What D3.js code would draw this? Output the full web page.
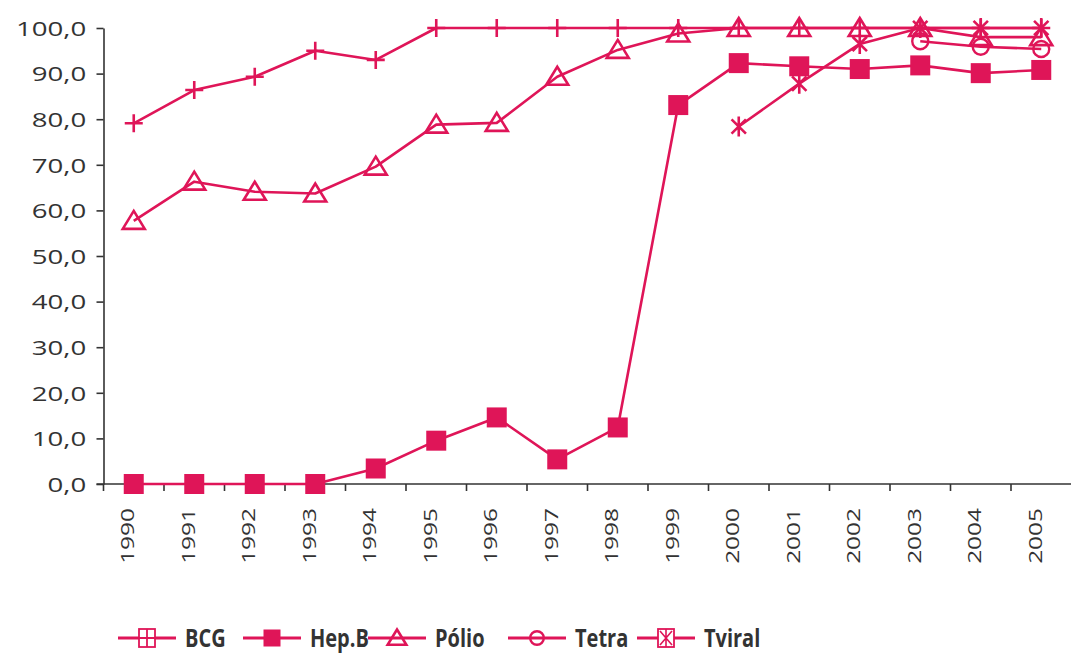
<!DOCTYPE html>
<html>
<head>
<meta charset="utf-8">
<script src="https://cdn.jsdelivr.net/npm/d3@7"></script>
<style>
    body { margin: 0; background: #fff; }
    text { font-family: "Open Sans", sans-serif; fill: #333; }
</style>
</head>
<body>
<div class="svg-container"></div>
<script>
// data
var years = ["1990","1991","1992","1993","1994","1995","1996","1997","1998","1999","2000","2001","2002","2003","2004","2005"];
var bcg   = [79.1, 86.4, 89.3, 95.0, 93.0, 100, 100, 100, 100, 100, 100, 100, 100, 100, 100, 100];
var hepB  = [0, 0, 0, 0, 3.4, 9.5, 14.6, 5.4, 12.4, 83.1, 92.3, 91.6, 91.0, 91.8, 90.1, 90.8];
var polio = [57.7, 66.3, 64.1, 63.7, 69.6, 78.8, 79.2, 89.3, 95.2, 98.8, 100, 100, 100, 100, 98.0, 98.0];
var tetra = [null, null, null, null, null, null, null, null, null, null, null, null, null, 97.1, 95.9, 95.4];
var tviral = [null, null, null, null, null, null, null, null, null, null, 78.4, 87.8, 96.5, 100, 100, 100];
var yTicks = [0, 10, 20, 30, 40, 50, 60, 70, 80, 90, 100];
var seriesNames = ["BCG", "Hep.B", "Pólio", "Tetra", "Tviral"];

var color = "#df1558";

var series = [
    {name: seriesNames[0], values: bcg, marker: "plus", legendMarker: "boxplus"},
    {name: seriesNames[1], values: hepB, marker: "square", legendMarker: "square"},
    {name: seriesNames[2], values: polio, marker: "triangle", legendMarker: "triangle"},
    {name: seriesNames[3], values: tetra, marker: "circle", legendMarker: "circle"},
    {name: seriesNames[4], values: tviral, marker: "star", legendMarker: "boxstar"}
];

function render(){
    var width = 1071;
    var height = 657;
    var left = 103.5;
    var top = 28;
    var bottom = 484;

    var svg = d3.select(".svg-container").append("svg")
    .attr("width", width)
    .attr("height", height);

    // scales
    var x = d3.scaleBand()
    .domain(years)
    .range([left, left + 16 * 60.5])
    .padding(0);

    var y = d3.scaleLinear()
    .domain([0, 100])
    .range([bottom, top]);

    // Y axis
    var yAxis = svg.append("g")
    .attr("transform", "translate(" + left + ",0)")
    .call(d3.axisLeft(y)
        .tickValues(yTicks)
        .tickSize(7)
        .tickSizeOuter(0)
        .tickFormat(function(d){ return d3.format(".1f")(d).replace(".", ","); }));

    yAxis.select(".domain").attr("stroke", "#333").attr("stroke-width", 1.6);
    yAxis.selectAll(".tick line").attr("stroke", "#333").attr("stroke-width", 1.6);
    yAxis.selectAll(".tick text")
    .attr("x", -12.5)
    .attr("dy", "0.36em")
    .attr("transform", "scale(1.38,1)")
    .style("font-size", "20px")
    .style("font-family", "'Open Sans', sans-serif")
    .attr("fill", "#333");

    // X axis line (goes over to the right edge)
    svg.append("line")
    .attr("x1", left - 7)
    .attr("x2", width)
    .attr("y1", bottom)
    .attr("y2", bottom)
    .attr("stroke", "#333")
    .attr("stroke-width", 1.6);

    // ticks between the years
    var bounds = years.map(function(d){ return x(d); });
    svg.selectAll(".xtick")
    .data(bounds)
    .enter().append("line")
    .attr("class", "xtick")
    .attr("x1", function(d){ return d; })
    .attr("x2", function(d){ return d; })
    .attr("y1", bottom)
    .attr("y2", bottom + 7)
    .attr("stroke", "#333")
    .attr("stroke-width", 1.6);

    // year labels, rotated
    svg.selectAll(".xlabel")
    .data(years)
    .enter().append("text")
    .attr("class", "xlabel")
    .attr("transform", function(d){
        var cx = x(d) + x.bandwidth() / 2 - 6;
        return "translate(" + cx + "," + (bottom + 24) + ") rotate(-90) scale(1.32,1)";
    })
    .attr("dy", "0.36em")
    .style("text-anchor", "end")
    .style("font-size", "18.5px")
    .text(function(d){ return d; });

    var cx = function(i){ return x(years[i]) + x.bandwidth() / 2; };

    var line = d3.line()
    .defined(function(d){ return d != null; })
    .x(function(d, i){ return cx(i); })
    .y(function(d){ return y(d); });

    // lines and markers, one series after the other
    series.forEach(function(s){
        var g = svg.append("g");
        g.append("path")
        .datum(s.values)
        .attr("d", line)
        .attr("fill", "none")
        .attr("stroke", color)
        .attr("stroke-width", 2.6)
        .attr("stroke-linejoin", "round");

        s.values.forEach(function(v, i){
            if(v == null) return;
            drawMarker(g, s.marker, cx(i), y(v));
        });
    });

    // Legend
    var legendX = [118, 243, 368, 508, 637];
    var legendY = 638;
    series.forEach(function(s, i){
        var lg = svg.append("g");
        lg.append("line")
        .attr("x1", legendX[i])
        .attr("x2", legendX[i] + 58)
        .attr("y1", legendY)
        .attr("y2", legendY)
        .attr("stroke", color)
        .attr("stroke-width", 3);
        drawMarker(lg, s.legendMarker, legendX[i] + 29, legendY, true);
        lg.append("text")
        .attr("transform", "translate(" + (legendX[i] + 67) + "," + legendY + ") scale(0.8,1)")
        .attr("dy", "0.36em")
        .style("font-size", "25px")
        .style("font-weight", "bold")
        .text(s.name);
    });
}

function drawMarker(g, type, px, py, small){
    var k = small ? 0.85 : 1;
    if(type == "square"){
        g.append("rect")
        .attr("x", px - 10 * k)
        .attr("y", py - 10 * k)
        .attr("width", 20 * k)
        .attr("height", 20 * k)
        .attr("fill", color);
    }
    else if(type == "plus"){
        g.append("path")
        .attr("d", "M" + (px - 9) + "," + py + "H" + (px + 9) + "M" + px + "," + (py - 9) + "V" + (py + 9))
        .attr("stroke", color)
        .attr("stroke-width", 2.6)
        .attr("fill", "none");
    }
    else if(type == "triangle"){
        g.append("path")
        .attr("d", "M" + px + "," + (py - 10 * k) + "L" + (px + 11 * k) + "," + (py + 8 * k) + "L" + (px - 11 * k) + "," + (py + 8 * k) + "Z")
        .attr("stroke", color)
        .attr("stroke-width", 2.6)
        .attr("fill", "none");
    }
    else if(type == "circle"){
        g.append("circle")
        .attr("cx", px)
        .attr("cy", py)
        .attr("r", 8 * k)
        .attr("stroke", color)
        .attr("stroke-width", 2.4)
        .attr("fill", "none");
    }
    else if(type == "star"){
        var r = 10;
        var d = r * 0.72;
        g.append("path")
        .attr("d", "M" + (px - d) + "," + (py - d) + "L" + (px + d) + "," + (py + d) +
            "M" + (px + d) + "," + (py - d) + "L" + (px - d) + "," + (py + d) +
            "M" + px + "," + (py - r) + "V" + (py + r))
        .attr("stroke", color)
        .attr("stroke-width", 2.6)
        .attr("fill", "none");
    }
    else if(type == "boxplus" || type == "boxstar"){
        g.append("rect")
        .attr("x", px - 8)
        .attr("y", py - 9)
        .attr("width", 16)
        .attr("height", 18)
        .attr("fill", "#fff")
        .attr("stroke", color)
        .attr("stroke-width", 1.8);
        if(type == "boxplus"){
            g.append("path")
            .attr("d", "M" + (px - 8) + "," + py + "H" + (px + 8) + "M" + px + "," + (py - 9) + "V" + (py + 9))
            .attr("stroke", color)
            .attr("stroke-width", 1.8);
        }
        else {
            g.append("path")
            .attr("d", "M" + (px - 6) + "," + (py - 7) + "L" + (px + 6) + "," + (py + 7) +
                "M" + (px + 6) + "," + (py - 7) + "L" + (px - 6) + "," + (py + 7) +
                "M" + px + "," + (py - 9) + "V" + (py + 9))
            .attr("stroke", color)
            .attr("stroke-width", 1.6);
        }
    }
}

render();
</script>
</body>
</html>
